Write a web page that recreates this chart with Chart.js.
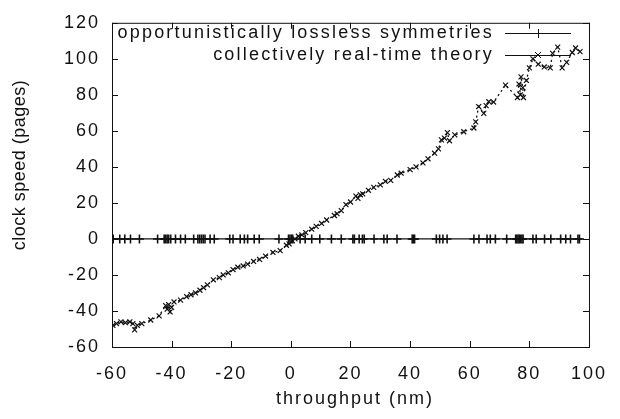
<!DOCTYPE html>
<html>
<head>
<meta charset="utf-8">
<script src="https://cdn.jsdelivr.net/npm/chart.js@4.4.1/dist/chart.umd.min.js"></script>
<style>
  html,body{margin:0;padding:0;background:#fff}
  #wrap{width:620px;height:419px;position:relative}
</style>
</head>
<body>
<div id="wrap"><canvas id="c"></canvas></div>
<script>
const X_TICKS = [-60,-40,-20,0,20,40,60,80,100]
const Y_TICKS = [-60,-40,-20,0,20,40,60,80,100,120]
const X_TITLE = 'throughput (nm)'
const Y_TITLE = 'clock speed (pages)'
const NAMES = ['opportunistically lossless symmetries','collectively real-time theory']

// series 1: all at zero
const lossX = [-59.6,-57.4,-55.7,-53.8,-50.8,-44.7,-42.5,-42,-41.5,-41,-40.3,-38.7,-37,-35.4,-32.6,-31.2,-30.6,-30,-29.4,-28.8,
  -27.1,-25.7,-20.5,-19.4,-17,-15.6,-14.5,-12.3,-10.6,-4,-0.8,-0.3,0.2,0.6,3.1,4.8,7,9.7,13.6,16.9,
  20.8,21.3,22.9,24,24.6,27.9,31.2,32.3,35.6,40.7,41.1,41.5,48.8,49.9,51,52.4,61.4,63.1,65.8,66.9,68.6,72.4,
  75.4,75.8,76.2,76.6,77,77.5,77.9,81.2,82.3,85.1,87.2,90.5,92.2,93.8,96.3,96.8]
const lossY = lossX.map(() => 0)

// series 2
const theoryX = [-59.7,-58.5,-57,-55.5,-54,-53,-52.4,-51.5,-50,-47,-44.2,-42,-41.5,-41,-40.5,-40,-39.2,-37,-35,-33.5,
  -32,-30.5,-29.3,-28,-26,-24,-22.7,-21,-19.4,-17.8,-16,-14.5,-12.5,-10.5,-8.5,-6,-3.6,-1.5,-0.6,0.5,
  1.4,2.5,3.7,5,7,8.5,10.3,12,14.6,15.5,16.9,18.5,20,21.8,22.5,23.3,24.1,26,27.8,30,
  31.7,33.5,35.7,37,40,42,44.3,46,48.2,49.5,50.5,51.5,52.5,53.2,55,58,61.4,62,63,64.7,
  65.5,66.4,68,72,76,76.5,77,77.2,77.8,78,79,80,81.2,83,85,87,87.8,89.5,91,92.5,94.4,95.5,97]
const theoryY = [-48,-47,-46,-46.5,-46,-47,-50.5,-48,-47,-45,-42.7,-37,-39,-36.5,-40.5,-38,-35,-34,-32,-31,
  -30,-28.5,-27,-25.5,-22.7,-21.5,-20,-18.8,-17,-15.7,-15,-14,-12.5,-11.4,-9.5,-7.5,-6.5,-3.5,-2.7,-1,
  0,1.5,2.2,3.5,5.4,7,8.6,10.5,13,14,15.7,19,20.5,23.8,22.5,24.5,25,27,28.6,30,
  32,32.5,35.5,36.5,38.5,40,42.2,44.5,47.6,50,55,56,59,54.5,57.8,59.5,61.6,65,73.5,69.7,
  74,76.2,76,85.4,78.5,86,80,90,84,78.5,88,95,100,97,95.5,95,103,106.5,95,98,103.5,106,104]

const toPts = (xs, ys) => xs.map((x, i) => ({ x, y: ys[i] }))
const FONT = 'Liberation Sans, Arial, Helvetica, sans-serif'
const INK = '#111'

const frame = {
  id: 'frame',
  beforeDraw(chart) { chart.ctx.letterSpacing = '2px' },
  afterDraw(chart) {
    const { ctx, chartArea: a, scales: { x, y } } = chart
    ctx.save()
    ctx.strokeStyle = INK
    ctx.lineWidth = 1
    ctx.strokeRect(a.left + 0.5, a.top + 0.5, a.right - a.left, a.bottom - a.top)
    ctx.beginPath()
    X_TICKS.forEach(v => {
      const px = Math.round(x.getPixelForValue(v)) + 0.5
      ctx.moveTo(px, a.bottom); ctx.lineTo(px, a.bottom - 6)
      ctx.moveTo(px, a.top); ctx.lineTo(px, a.top + 6)
    })
    Y_TICKS.forEach(v => {
      const py = Math.round(y.getPixelForValue(v)) + 0.5
      ctx.moveTo(a.left, py); ctx.lineTo(a.left + 6, py)
      ctx.moveTo(a.right, py); ctx.lineTo(a.right - 6, py)
    })
    ctx.stroke()

    // axis titles
    ctx.fillStyle = INK
    ctx.font = '18px ' + FONT
    ctx.textAlign = 'center'
    ctx.textBaseline = 'middle'
    ctx.letterSpacing = '2px'
    ctx.fillText(X_TITLE, 355, 399)
    ctx.save()
    ctx.translate(20, 165)
    ctx.rotate(-Math.PI / 2)
    ctx.letterSpacing = '0.5px'
    ctx.fillText(Y_TITLE, 0, 0)
    ctx.restore()

    // key, top right inside the frame
    ctx.letterSpacing = '2.2px'
    ctx.textAlign = 'right'
    const rows = [33, 55]
    NAMES.forEach((name, i) => {
      const ry = rows[i]
      ctx.fillText(name, 494, ry)
      ctx.beginPath()
      ctx.moveTo(505, ry + 0.5); ctx.lineTo(571, ry + 0.5)
      if (i === 0) { ctx.moveTo(538.5, ry - 4); ctx.lineTo(538.5, ry + 5) }
      else { ctx.moveTo(535, ry - 3); ctx.lineTo(541, ry + 3); ctx.moveTo(541, ry - 3); ctx.lineTo(535, ry + 3) }
      ctx.stroke()
    })
    ctx.restore()
    ctx.letterSpacing = '0px'
  }
}

new Chart(document.getElementById('c'), {
  type: 'scatter',
  data: {
    datasets: [
      { label: NAMES[0], data: toPts(lossX, lossY), showLine: true, borderColor: INK, backgroundColor: INK,
        borderWidth: 1.2, pointStyle: 'cross', pointRadius: 4.5, pointBorderWidth: 1.6 },
      { label: NAMES[1], data: toPts(theoryX, theoryY), showLine: true, borderColor: INK, backgroundColor: INK,
        borderWidth: 1.3, borderDash: [2, 3], pointStyle: 'crossRot', pointRadius: 3.5, pointBorderWidth: 1.2 }
    ]
  },
  options: {
    responsive: true, maintainAspectRatio: false, animation: false,
    layout: { padding: { top: 14, right: 23, left: 0, bottom: 0 } },
    plugins: { legend: { display: false }, tooltip: { enabled: false } },
    scales: {
      x: {
        min: -60, max: 100,
        afterFit: s => { s.height = 72 },
        afterBuildTicks: s => { s.ticks = X_TICKS.map(v => ({ value: v })) },
        grid: { display: false, drawTicks: false }, border: { display: false },
        ticks: { color: INK, padding: 16, maxRotation: 0, font: { family: FONT, size: 18 } }
      },
      y: {
        min: -60, max: 120,
        afterFit: s => { s.width = 112 },
        afterBuildTicks: s => { s.ticks = Y_TICKS.map(v => ({ value: v })) },
        grid: { display: false, drawTicks: false }, border: { display: false },
        ticks: { color: INK, padding: 12, font: { family: FONT, size: 18 } }
      }
    }
  },
  plugins: [frame]
})
</script>
</body>
</html>
